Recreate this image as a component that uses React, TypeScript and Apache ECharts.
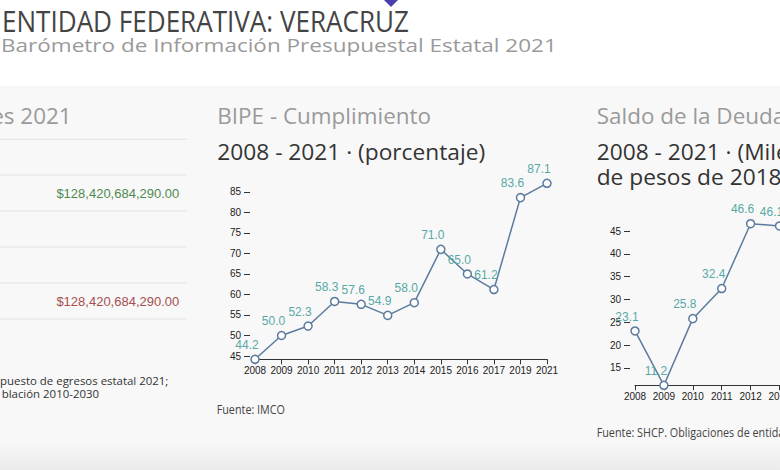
import React, { useEffect, useRef } from 'react';
import * as echarts from 'echarts';

// ---- data ----
const bipeYears = ['2008', '2009', '2010', '2011', '2012', '2013', '2014', '2015', '2016', '2017', '2019', '2021'];
const bipeValues = [44.2, 50.0, 52.3, 58.3, 57.6, 54.9, 58.0, 71.0, 65.0, 61.2, 83.6, 87.1];
const bipeTicks = [45, 50, 55, 60, 65, 70, 75, 80, 85];

const deudaYears = ['2008', '2009', '2010', '2011', '2012', '2013'];
const deudaValues = [23.1, 11.2, 25.8, 32.4, 46.6, 46.1];
const deudaTicks = [15, 20, 25, 30, 35, 40, 45];

const egresosValues = ['$128,420,684,290.00', '$128,420,684,290.00'];

const PAGE_FONT = '"Open Sans", "DejaVu Sans", sans-serif';
const AXIS_FONT = '"Liberation Sans", Arial, sans-serif';
const LINE = '#5b7b9e';
const LABEL = '#58a9a6';

let ctx: CanvasRenderingContext2D | null = null;
function measure(text: string, size: number, family: string) {
  if (!ctx) ctx = document.createElement('canvas').getContext('2d');
  ctx!.font = `${size}px ${family}`;
  return ctx!.measureText(text).width;
}

function txt(text: string, x: number, y: number, size: number, color: string, scaleX = 1, align = 'left', family = PAGE_FONT) {
  return {
    type: 'text',
    x,
    y,
    scaleX,
    z: 100,
    silent: true,
    style: { text, fontSize: size, fontFamily: family, fill: color, align, verticalAlign: 'middle' },
  };
}

export default function App() {
  const ref = useRef<HTMLDivElement>(null);
  useEffect(() => {
    const chart = echarts.init(ref.current!, null, { renderer: 'svg' });

    const title = 'ENTIDAD FEDERATIVA: VERACRUZ';
    const subtitle = 'Barómetro de Información Presupuestal Estatal 2021';
    const titleScale = 407 / measure(title, 29, PAGE_FONT);
    const subScale = 556 / measure(subtitle, 19, PAGE_FONT);
    const secScale = 214 / measure('BIPE - Cumplimiento', 21.5, PAGE_FONT);
    const headScale = 268 / measure('2008 - 2021 · (porcentaje)', 21.5, PAGE_FONT);
    const fuenteScale = 68.3 / measure('Fuente: IMCO', 11.8, PAGE_FONT);
    const footScale = 168.3 / measure('puesto de egresos estatal 2021;', 11.5, PAGE_FONT);

    const lines = [139.3, 175, 211, 247, 283, 319].map((y) => ({
      type: 'line',
      z: 1,
      silent: true,
      shape: { x1: 0, y1: y, x2: 186.7, y2: y },
      style: { stroke: '#e2e2e2', lineWidth: 1 },
    }));

    const graphic: any[] = [
      { type: 'rect', z: -100, silent: true, shape: { x: 0, y: 0, width: 780, height: 87 }, style: { fill: '#ffffff' } },
      { type: 'rect', z: -100, silent: true, shape: { x: 0, y: 87, width: 780, height: 383 }, style: { fill: '#f8f8f8' } },
      {
        type: 'rect', z: -99, silent: true, shape: { x: 0, y: 440, width: 780, height: 30 },
        style: {
          fill: new echarts.graphic.LinearGradient(0, 0, 0, 1, [
            { offset: 0, color: '#f8f8f8' },
            { offset: 1, color: '#ebebeb' },
          ]),
        },
      },
      { type: 'line', z: -98, silent: true, shape: { x1: 0, y1: 87, x2: 780, y2: 87 }, style: { stroke: '#eeeeee', lineWidth: 1 } },
      { type: 'polygon', z: 100, silent: true, shape: { points: [[381, -3], [391, -13], [401, -3], [391, 7]] }, style: { fill: '#4b3faf' } },
      txt(title, 2, 21, 29, '#444444', titleScale),
      txt(subtitle, 1, 45, 19, '#9a9a9a', subScale),
      // left panel
      txt('es 2021', 71.7, 116, 21.5, '#9a9a9a', secScale, 'right'),
      ...lines,
      txt(egresosValues[0], 179.3, 193.3, 13, '#4f8a4f', 1, 'right', AXIS_FONT),
      txt(egresosValues[1], 179.3, 301.7, 13, '#a54f4f', 1, 'right', AXIS_FONT),
      txt('puesto de egresos estatal 2021;', 168.3, 380.5, 11.5, '#333333', footScale, 'right'),
      txt('blación 2010-2030', 99, 393, 11.5, '#333333', footScale, 'right'),
      // middle panel
      txt('BIPE - Cumplimiento', 217.3, 115.8, 21.5, '#9a9a9a', secScale),
      txt('2008 - 2021 · (porcentaje)', 217.3, 150.8, 21.5, '#333333', headScale),
      txt('Fuente: IMCO', 216.7, 409, 11.8, '#444444', fuenteScale),
      // right panel
      txt('Saldo de la Deuda', 596.7, 115.3, 21.5, '#9a9a9a', secScale),
      txt('2008 - 2021 · (Miles', 596.7, 150.8, 21.5, '#333333', headScale),
      txt('de pesos de 2018)', 596.7, 175.8, 21.5, '#333333', headScale),
      txt('Fuente: SHCP. Obligaciones de entidades', 596.7, 432.8, 11.8, '#444444', fuenteScale),
    ];

    const xAxisBase = (gridIndex: number, data: string[]) => ({
      type: 'category',
      gridIndex,
      data,
      boundaryGap: false,
      axisLine: { show: true, lineStyle: { color: '#333333', width: 1 } },
      axisTick: { show: true, length: 5, interval: 0, lineStyle: { color: '#333333' } },
      axisLabel: { interval: 0, color: '#222222', fontSize: 10, fontFamily: AXIS_FONT, margin: 6 },
      splitLine: { show: false },
    });
    const yAxisBase = (gridIndex: number, values: number[], ticks: number[]) => ({
      type: 'value',
      gridIndex,
      min: Math.min(...values),
      max: Math.max(...values),
      offset: 5,
      axisLine: { show: false },
      axisTick: { show: true, length: 6, customValues: ticks, lineStyle: { color: '#333333' } },
      axisLabel: { customValues: ticks, color: '#222222', fontSize: 10, fontFamily: AXIS_FONT, margin: 9 },
      splitLine: { show: false },
    });
    const seriesBase = (idx: number, data: number[]) => ({
      type: 'line',
      xAxisIndex: idx,
      yAxisIndex: idx,
      data,
      symbol: 'circle',
      symbolSize: 8,
      showAllSymbol: true,
      clip: false,
      z: 5,
      lineStyle: { color: LINE, width: 1.5 },
      itemStyle: { color: '#ffffff', borderColor: LINE, borderWidth: 1.5 },
      label: {
        show: true,
        position: 'top',
        distance: 3.5,
        offset: [-8, 0],
        color: LABEL,
        fontSize: 12,
        fontFamily: AXIS_FONT,
        formatter: (p: any) => Number(p.value).toFixed(1),
      },
      emphasis: { disabled: true },
    });

    chart.setOption({
      animation: false,
      backgroundColor: 'transparent',
      grid: [
        { left: 255, top: 183.3, width: 292, height: 176, containLabel: false, outerBoundsMode: 'none' },
        { left: 635, top: 223.7, width: 144.5, height: 161.6, containLabel: false, outerBoundsMode: 'none' },
      ],
      xAxis: [xAxisBase(0, bipeYears), xAxisBase(1, deudaYears)],
      yAxis: [yAxisBase(0, bipeValues, bipeTicks), yAxisBase(1, deudaValues, deudaTicks)],
      series: [seriesBase(0, bipeValues), seriesBase(1, deudaValues)],
      graphic,
    });
    return () => chart.dispose();
  }, []);
  return <div ref={ref} style={{ position: 'absolute', left: 0, top: 0, width: 780, height: 470 }} />;
}
